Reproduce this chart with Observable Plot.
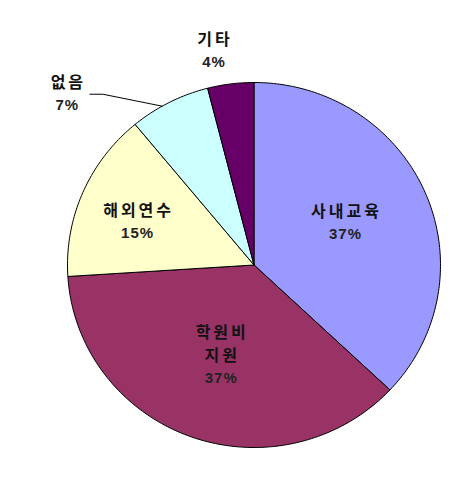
<!DOCTYPE html>
<html>
<head>
<meta charset="utf-8">
<script src="https://cdn.jsdelivr.net/npm/d3@7"></script>
<script src="https://cdn.jsdelivr.net/npm/@observablehq/plot@0.6"></script>
<style>
  body { margin: 0; background: #fff; }
  #chart svg { display: block; }
  #chart svg text { letter-spacing: 1px; }
  #chart svg g.names text, #chart svg g[aria-label="names"] text { letter-spacing: 3px; }
</style>
</head>
<body>
<div id="chart"></div>
<script>
// ---- data ----
const categories = ["사내교육", "학원비\n지원", "해외연수", "없음", "기타"];
const shares = [37, 37, 15, 7, 4];
const colors = ["#9999FF", "#993366", "#FFFFCC", "#CCFFFF", "#660066"];

// ---- layout (label placement, in unit-circle polar terms) ----
const labelR = [0.54, 0.527, 0.67, 1.372, 1.19];
const labelDA = [-2, 0, -2.7, -20, -3.3]; // degrees offset from slice mid-angle

const total = d3.sum(shares);
const toRad = d => d * Math.PI / 180;

const poly = [];
const labels = [];
let acc = 0;
categories.forEach((name, i) => {
  const a0 = acc / total * 360;
  acc += shares[i];
  const a1 = acc / total * 360;
  poly.push({name, x: 0, y: 0});
  const n = Math.max(4, Math.ceil((a1 - a0) / 1));
  for (let k = 0; k <= n; k++) {
    const a = toRad(a0 + (a1 - a0) * k / n);
    poly.push({name, x: Math.sin(a), y: Math.cos(a)});
  }
  poly.push({name, x: 0, y: 0});
  const am = toRad((a0 + a1) / 2 + labelDA[i]);
  labels.push({name, pct: shares[i] + "%", x: labelR[i] * Math.sin(am), y: labelR[i] * Math.cos(am), i});
});

// leader line for "없음"
const iNone = 3;
const edgeA = toRad(330.5);
const lab = labels[iNone];
const leader = [
  {x: Math.sin(edgeA), y: Math.cos(edgeA)},
  {x: lab.x + 0.193, y: lab.y},
  {x: lab.x + 0.123, y: lab.y}
];

const lineH = 0.122;

const nameRows = [];
const pctRows = [];
labels.forEach(l => {
  const lines = l.name.split("\n");
  const nl = lines.length + 1;
  lines.forEach((t, j) => nameRows.push({t, x: l.x, y: l.y + lineH * ((nl - 1) / 2 - j)}));
  pctRows.push({t: l.pct, x: l.x, y: l.y + lineH * ((nl - 1) / 2 - lines.length)});
});

const plot = Plot.plot({
  width: 473,
  height: 480,
  margin: 0,
  style: {background: "#fff"},
  x: {domain: [-1, 1], range: [67, 440], axis: null},
  y: {domain: [-1, 1], range: [447, 82], axis: null},
  color: {domain: categories, range: colors},
  marks: [
    Plot.line(poly, {x: "x", y: "y", z: "name", fill: "name", stroke: "#000", strokeWidth: 1, curve: "linear-closed"}),
    Plot.line(leader, {x: "x", y: "y", stroke: "#000", strokeWidth: 1}),
    Plot.text(nameRows, {x: "x", y: "y", dx: 1.5, text: "t", fontSize: 16, fontWeight: "bold", fill: "#111", fontFamily: "Noto Sans CJK KR", ariaLabel: "names", className: "names"}),
    Plot.text(pctRows, {x: "x", y: "y", dx: 0.5, text: "t", fontSize: 15, fontWeight: "bold", fill: "#222", fontFamily: "Liberation Sans, Arial, sans-serif"})
  ]
});
document.getElementById("chart").appendChild(plot);
</script>
</body>
</html>
